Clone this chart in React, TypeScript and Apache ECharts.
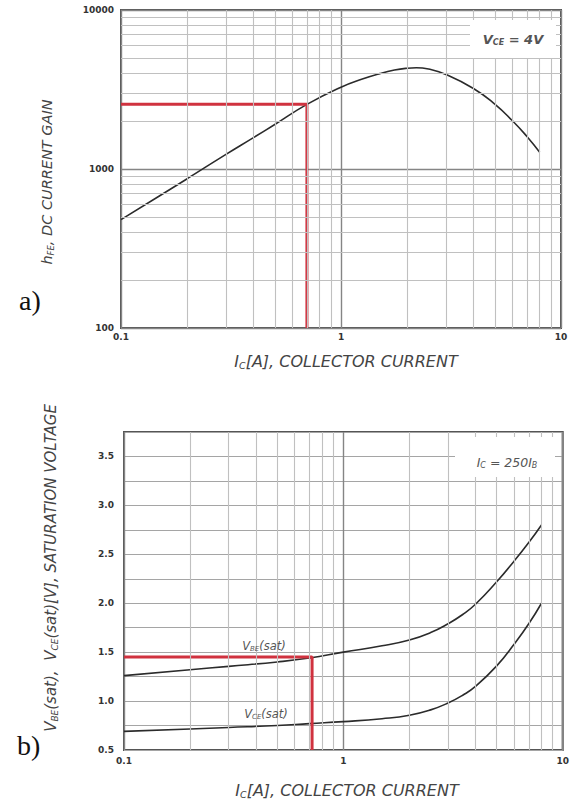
import React, { useEffect, useRef } from "react";
import * as echarts from "echarts";

// ---- Data ----
const topX = [0.1, 0.15, 0.2, 0.3, 0.4, 0.5, 0.7, 1, 1.25, 1.5, 1.75, 2, 2.2, 2.5, 3, 4, 5, 6, 7, 8];
const hFE = [480, 679, 869, 1236, 1575, 1906, 2550, 3270, 3680, 3980, 4190, 4305, 4335, 4250, 3930, 3210, 2560, 2018, 1603, 1275];
const topRedX = [0.1, 0.7, 0.7];
const topRedY = [2550, 2550, 100];

const botX = [0.1, 0.2, 0.3, 0.5, 0.7, 1, 1.5, 2, 2.5, 3, 3.5, 4, 5, 6, 7, 8];
const vbeSat = [1.26, 1.32, 1.355, 1.4, 1.44, 1.5, 1.565, 1.625, 1.7, 1.79, 1.885, 1.99, 2.22, 2.43, 2.62, 2.8];
const vceSat = [0.69, 0.715, 0.73, 0.75, 0.77, 0.79, 0.82, 0.855, 0.91, 0.98, 1.06, 1.15, 1.36, 1.58, 1.79, 2.0];
const botRedX = [0.1, 0.72, 0.72];
const botRedY = [1.45, 1.45, 0.5];

const minorX = [0.2, 0.3, 0.4, 0.5, 0.6, 0.7, 0.8, 0.9, 2, 3, 4, 5, 6, 7, 8, 9];
const minorYTop = [200, 300, 400, 500, 600, 700, 800, 900, 2000, 3000, 4000, 5000, 6000, 7000, 8000, 9000];

const WIDE = "'DejaVu Sans', Verdana, sans-serif";
const RED = "#d0323f";
const CURVE = "#2b2b2b";
const MINOR = "#c0c0c0";
const MAJOR = "#858585";

const zip = (xs: number[], ys: number[]) => xs.map((x, i) => [x, ys[i]]);
const fmt = (v: number) => String(+(+v).toPrecision(4));

export default function App() {
  const ref = useRef<HTMLDivElement>(null);
  useEffect(() => {
    if (!ref.current) return;
    const chart = echarts.init(ref.current, undefined, { renderer: "svg" });

    const axisLabel = (margin: number) => ({
      fontSize: 9,
      fontWeight: "bold" as const,
      color: "#333",
      fontFamily: WIDE,
      margin,
      formatter: (v: number) => fmt(v),
    });

    const gridLinesSeries = (xi: number, yi: number, xs: number[], ys: number[]) => ({
      type: "line",
      xAxisIndex: xi,
      yAxisIndex: yi,
      data: [],
      silent: true,
      z: 1,
      markLine: {
        silent: true,
        symbol: ["none", "none"],
        label: { show: false },
        lineStyle: { color: MINOR, width: 1.1, type: "solid" },
        emphasis: { disabled: true },
        data: [...xs.map((x) => ({ xAxis: x })), ...ys.map((y) => ({ yAxis: y }))],
      },
    });

    const rt = (size: number, fill: string, bold = false) => ({
      fontSize: size,
      fontStyle: "italic" as const,
      fontWeight: bold ? ("bold" as const) : ("normal" as const),
      fill,
      fontFamily: WIDE,
    });
    const sub = (size: number, fill: string, bold = false) => ({
      ...rt(size, fill, bold),
      padding: [Math.round(size * 0.9), 0, 0, 0],
    });

    const curveLine = (xi: number, xs: number[], ys: number[]) => ({
      type: "line", xAxisIndex: xi, yAxisIndex: xi, data: zip(xs, ys),
      smooth: 0.5, showSymbol: false,
      lineStyle: { color: CURVE, width: 1.6 }, z: 3,
    });
    const redLine = (xi: number, xs: number[], ys: number[]) => ({
      type: "line", xAxisIndex: xi, yAxisIndex: xi, data: zip(xs, ys),
      showSymbol: false, lineStyle: { color: RED, width: 3 }, z: 4,
    });

    const option: any = {
      animation: false,
      backgroundColor: "#fff",
      grid: [
        { left: 121, top: 10, right: 11, bottom: 474, show: true, borderColor: "#555", borderWidth: 2 },
        { left: 124, top: 432, right: 5, bottom: 52, show: true, borderColor: "#555", borderWidth: 2 },
      ],
      xAxis: [
        {
          type: "log", logBase: 10, min: 0.1, max: 10, gridIndex: 0,
          axisLine: { show: false }, axisTick: { show: false },
          splitLine: { show: true, lineStyle: { color: MAJOR, width: 1.4 } },
          axisLabel: axisLabel(4),
        },
        {
          type: "log", logBase: 10, min: 0.1, max: 10, gridIndex: 1,
          axisLine: { show: false }, axisTick: { show: false },
          splitLine: { show: true, lineStyle: { color: MAJOR, width: 1.4 } },
          axisLabel: axisLabel(6),
        },
      ],
      yAxis: [
        {
          type: "log", logBase: 10, min: 100, max: 10000, gridIndex: 0,
          axisLine: { show: false }, axisTick: { show: false },
          splitLine: { show: true, lineStyle: { color: MAJOR, width: 1.4 } },
          axisLabel: axisLabel(7),
        },
        {
          type: "value", min: 0.5, max: 3.75, interval: 0.25, gridIndex: 1,
          axisLine: { show: false }, axisTick: { show: false },
          splitLine: { show: true, lineStyle: { color: "#a5a5a5", width: 1.2 } },
          axisLabel: {
            ...axisLabel(10),
            formatter: (v: number) => (Math.abs(v * 2 - Math.round(v * 2)) < 1e-6 && v < 3.7 ? v.toFixed(1) : ""),
          },
        },
      ],
      series: [
        gridLinesSeries(0, 0, minorX, minorYTop),
        gridLinesSeries(1, 1, minorX, []),
        curveLine(0, topX, hFE),
        redLine(0, topRedX, topRedY),
        curveLine(1, botX, vbeSat),
        curveLine(1, botX, vceSat),
        redLine(1, botRedX, botRedY),
      ],
      graphic: [
        // legend boxes
        { type: "rect", z: 20, shape: { x: 470, y: 20, width: 86, height: 38 }, style: { fill: "#fff" } },
        {
          type: "text", z: 21, x: 513, y: 39,
          style: {
            text: "{a|V}{s|CE}{a| = 4V}",
            align: "center", verticalAlign: "middle",
            rich: { a: rt(13, "#555", true), s: sub(8, "#555", true) },
          },
        },
        { type: "rect", z: 20, shape: { x: 455, y: 437, width: 100, height: 40 }, style: { fill: "#fff" } },
        {
          type: "text", z: 21, x: 507, y: 462,
          style: {
            text: "{a|I}{s|C}{a| = 250I}{s|B}",
            align: "center", verticalAlign: "middle",
            rich: { a: rt(12.5, "#555"), s: sub(8, "#555") },
          },
        },
        // curve labels
        {
          type: "text", z: 21, x: 264, y: 646,
          style: {
            text: "{a|V}{s|BE}{a|(sat)}",
            align: "center", verticalAlign: "middle",
            rich: { a: rt(11.5, "#555"), s: sub(7, "#555") },
          },
        },
        {
          type: "text", z: 21, x: 266, y: 714,
          style: {
            text: "{a|V}{s|CE}{a|(sat)}",
            align: "center", verticalAlign: "middle",
            rich: { a: rt(11.5, "#555"), s: sub(7, "#555") },
          },
        },
        // axis titles
        {
          type: "text", x: 346, y: 361,
          style: {
            text: "{a|I}{s|C}{a|[A], COLLECTOR CURRENT}",
            align: "center", verticalAlign: "middle",
            rich: { a: rt(16, "#444"), s: sub(9.5, "#444") },
          },
        },
        {
          type: "text", x: 347, y: 790,
          style: {
            text: "{a|I}{s|C}{a|[A], COLLECTOR CURRENT}",
            align: "center", verticalAlign: "middle",
            rich: { a: rt(16, "#444"), s: sub(9.5, "#444") },
          },
        },
        {
          type: "text", x: 47, y: 182, rotation: Math.PI / 2,
          style: {
            text: "{a|h}{s|FE}{a|, DC CURRENT GAIN}",
            align: "center", verticalAlign: "middle",
            rich: { a: rt(14.5, "#444"), s: sub(8.5, "#444") },
          },
        },
        {
          type: "text", x: 51, y: 568, rotation: Math.PI / 2,
          style: {
            text: "{a|V}{s|BE}{a|(sat),  V}{s|CE}{a|(sat)[V], SATURATION VOLTAGE}",
            align: "center", verticalAlign: "middle",
            rich: { a: rt(15, "#444"), s: sub(9, "#444") },
          },
        },
        // panel labels
        {
          type: "text", x: 19, y: 300,
          style: { text: "a)", fontSize: 28, fontFamily: "'Liberation Serif', 'DejaVu Serif', serif", fill: "#111", verticalAlign: "middle" },
        },
        {
          type: "text", x: 17, y: 745,
          style: { text: "b)", fontSize: 28, fontFamily: "'Liberation Serif', 'DejaVu Serif', serif", fill: "#111", verticalAlign: "middle" },
        },
      ],
    };

    chart.setOption(option);
    return () => chart.dispose();
  }, []);

  return (
    <div
      ref={ref}
      style={{ position: "fixed", left: 0, top: 0, width: 572, height: 802, background: "#fff" }}
    />
  );
}
